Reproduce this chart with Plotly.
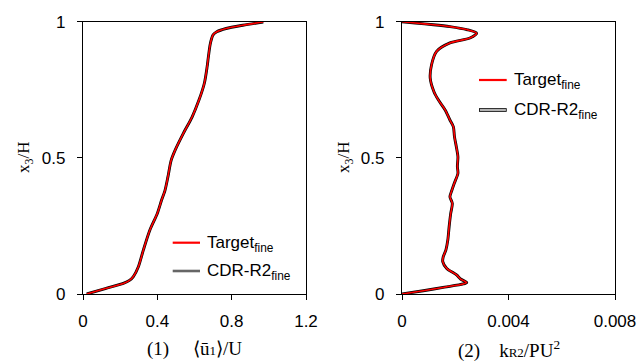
import plotly.graph_objects as go

# ---- data ----
# Panel 1: mean streamwise velocity <u1>/U versus x3/H
u_z = [0.0, 0.02, 0.039, 0.05, 0.064, 0.10, 0.162, 0.235, 0.296, 0.345, 0.38, 0.43,
       0.49, 0.53, 0.59, 0.65, 0.712, 0.774, 0.835, 0.867, 0.915, 0.94, 0.952, 0.963,
       0.975, 0.987, 0.999]
u_target = [0.02, 0.12, 0.217, 0.25, 0.271, 0.298, 0.325, 0.36, 0.40, 0.423, 0.441, 0.457,
            0.474, 0.497, 0.54, 0.587, 0.624, 0.653, 0.668, 0.674, 0.684, 0.693, 0.70, 0.72,
            0.77, 0.86, 0.97]
u_cdr = list(u_target)

# Panel 2: resolved TKE k_R2/PU^2 versus x3/H
k_z = [0.0, 0.012, 0.025, 0.037, 0.042, 0.055, 0.07, 0.094, 0.119, 0.137, 0.162, 0.198, 0.247,
       0.296, 0.333, 0.357, 0.38, 0.406, 0.443, 0.468, 0.504, 0.541, 0.578, 0.614, 0.639,
       0.676, 0.712, 0.743, 0.793, 0.842, 0.891, 0.922, 0.94, 0.958, 0.971, 0.982,
       0.989, 0.995, 1.0]
k_target = [0.0, 0.0008, 0.0016, 0.0023, 0.00243, 0.0022, 0.00205, 0.00168, 0.00153, 0.00155,
            0.00165, 0.00172, 0.00177, 0.00183, 0.00189, 0.0018, 0.00187, 0.00196, 0.0021, 0.00208,
            0.0021, 0.00204, 0.00197, 0.00193, 0.0018, 0.00162, 0.00137, 0.0012, 0.00106,
            0.00111, 0.0013, 0.0018, 0.00255, 0.0028, 0.00243, 0.0018, 0.00118, 0.0005, 0.0]
k_cdr = list(k_target)

x1_ticks = [0, 0.4, 0.8, 1.2]
x1_labels = ["0", "0.4", "0.8", "1.2"]
x2_ticks = [0, 0.004, 0.008]
x2_labels = ["0", "0.004", "0.008"]
y_ticks = [0, 0.5, 1]
y_labels = ["0", "0.5", "1"]

W, H = 639, 363
SANS = "Liberation Sans, Arial, sans-serif"
SERIF = "Liberation Serif, Times New Roman, serif"
NB = "\u00a0"

def px_x(p):
    return p / W

def px_y(p):
    return (H - p) / H

fig = go.Figure()

sm = 0.8
BW, RW = 2.9, 1.6
# panel 1
fig.add_trace(go.Scatter(x=u_cdr, y=u_z, mode="lines", line=dict(color="black", width=BW, shape="spline", smoothing=sm),
                         xaxis="x", yaxis="y", showlegend=False, name="CDR-R2 fine"))
fig.add_trace(go.Scatter(x=u_target, y=u_z, mode="lines", line=dict(color="#ff0000", width=RW, shape="spline", smoothing=sm),
                         xaxis="x", yaxis="y", showlegend=False, name="Target fine"))
# panel 2
fig.add_trace(go.Scatter(x=k_cdr, y=k_z, mode="lines", line=dict(color="black", width=BW, shape="spline", smoothing=sm),
                         xaxis="x2", yaxis="y2", showlegend=False, name="CDR-R2 fine"))
fig.add_trace(go.Scatter(x=k_target, y=k_z, mode="lines", line=dict(color="#ff0000", width=RW, shape="spline", smoothing=sm),
                         xaxis="x2", yaxis="y2", showlegend=False, name="Target fine"))

ydom = [px_y(294), px_y(21.7)]
axis_common = dict(showline=True, linecolor="black", linewidth=1.2, mirror=True, showgrid=False,
                   zeroline=False, ticks="outside", ticklen=5, tickwidth=1.2, tickcolor="black",
                   automargin=False,
                   tickfont=dict(family=SANS, size=17, color="black"))

fig.update_layout(
    width=W, height=H,
    margin=dict(l=0, r=0, t=0, b=0),
    paper_bgcolor="white", plot_bgcolor="white",
    xaxis=dict(domain=[px_x(83), px_x(306)], range=[0, 1.2], tickvals=x1_ticks, ticktext=x1_labels,
               anchor="y", ticklabelstandoff=6, **axis_common),
    yaxis=dict(domain=ydom, range=[0, 1], tickvals=y_ticks, ticktext=y_labels, anchor="x",
               ticklabelstandoff=8, **axis_common),
    xaxis2=dict(domain=[px_x(402), px_x(615)], range=[0, 0.008], tickvals=x2_ticks, ticktext=x2_labels,
                anchor="y2", ticklabelstandoff=6, **axis_common),
    yaxis2=dict(domain=ydom, range=[0, 1], tickvals=y_ticks, ticktext=y_labels, anchor="x2",
                ticklabelstandoff=8, **axis_common),
)

annotations = []
# y-axis titles
for xc in (25, 345):
    annotations.append(dict(x=px_x(xc), y=px_y(158), xref="paper", yref="paper", text="x<sub>3</sub>/H",
                            textangle=-90, showarrow=False, xanchor="center", yanchor="middle",
                            font=dict(family=SERIF, size=17, color="black")))
# bottom titles
annotations.append(dict(x=px_x(194.5), y=px_y(349), xref="paper", yref="paper",
                        text="(1)" + NB * 5 + "⟨ū<span style='font-size:13px'>1</span>⟩/U",
                        showarrow=False, xanchor="center", yanchor="middle",
                        font=dict(family=SERIF, size=19, color="black")))
annotations.append(dict(x=px_x(508.5), y=px_y(349), xref="paper", yref="paper",
                        text="(2)" + NB * 4 + "k<span style='font-size:13px'>R2</span>/PU<sup>2</sup>",
                        showarrow=False, xanchor="center", yanchor="middle",
                        font=dict(family=SERIF, size=19, color="black")))

shapes = []
def legend_entry(x0, x1, y, label, kind):
    if kind == "red":
        shapes.append(dict(type="line", xref="paper", yref="paper", x0=px_x(x0), x1=px_x(x1), y0=px_y(y), y1=px_y(y),
                           line=dict(color="#ff0000", width=2.2)))
    elif kind == "gray":
        shapes.append(dict(type="line", xref="paper", yref="paper", x0=px_x(x0), x1=px_x(x1), y0=px_y(y), y1=px_y(y),
                           line=dict(color="#666666", width=2.6)))
    else:
        shapes.append(dict(type="line", xref="paper", yref="paper", x0=px_x(x0), x1=px_x(x1), y0=px_y(y), y1=px_y(y),
                           line=dict(color="black", width=3.6)))
        shapes.append(dict(type="line", xref="paper", yref="paper", x0=px_x(x0 + 0.8), x1=px_x(x1 - 0.8), y0=px_y(y), y1=px_y(y),
                           line=dict(color="white", width=1.4)))
    annotations.append(dict(x=px_x(x1 + 5), y=px_y(y + 1), xref="paper", yref="paper", text=label,
                            showarrow=False, xanchor="left", yanchor="middle",
                            font=dict(family=SANS, size=17, color="black")))

legend_entry(172.7, 200, 242.7, "Target<sub>fine</sub>", "red")
legend_entry(172.7, 200, 271, "CDR-R2<sub>fine</sub>", "gray")
legend_entry(479, 506.7, 80, "Target<sub>fine</sub>", "red")
legend_entry(479, 506.7, 110, "CDR-R2<sub>fine</sub>", "double")

fig.update_layout(annotations=annotations, shapes=shapes)

fig.write_html("out.html")
